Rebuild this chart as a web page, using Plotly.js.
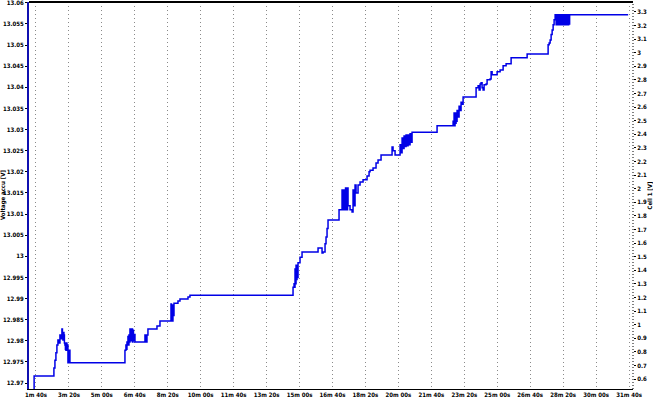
<!DOCTYPE html>
<html><head><meta charset="utf-8">
<script src="https://cdn.plot.ly/plotly-3.0.1.min.js"></script>
<style>html,body{margin:0;padding:0;background:#fff}#chart{width:653px;height:404px}</style>
</head><body><div id="chart"></div>
<script>
// time in seconds
const timeSec = [93.9,94.5,154.6,157.7,160.7,163.7,166.8,169.8,172.9,175.9,178.9,180.5,182.0,183.5,185.0,186.5,188.0,189.5,191.1,192.6,194.1,195.6,197.2,198.7,200.2,201.7,203.2,
370.2,373.2,374.7,376.3,379.3,380.8,382.3,383.8,385.4,386.9,388.4,389.9,391.5,393.0,394.5,396.0,397.5,400.6,403.6,
430.9,432.4,434.0,435.5,437.0,440.0,467.4,476.5,509.9,511.4,512.9,514.4,515.9,517.5,519.0,531.1,537.2,561.5,567.5,
880.3,883.3,884.8,886.3,887.8,889.4,890.9,892.4,893.9,895.4,901.5,907.6,956.2,968.3,971.3,977.4,980.4,983.5,986.5,
1019.9,1029.0,1030.5,1035.0,1036.6,1039.6,1041.2,1045.7,1047.2,1053.3,1059.4,1062.4,1065.4,1068.5,1071.5,1077.6,1083.7,1092.8,1104.9,1111.0,1114.0,1123.1,1132.2,1138.3,1147.4,
1180.8,1183.8,1189.9,1205.1,1208.1,1211.2,1214.2,1217.2,1220.3,1223.3,1226.3,1229.4,1232.4,1235.4,1238.5,1241.5,1317.4,
1366.0,1367.5,1369.0,1370.5,1372.0,1373.5,1375.1,1376.6,1378.1,1381.1,1384.2,1387.2,1390.2,1393.3,1396.4,1435.8,1441.9,1445.0,1448.0,1451.0,1454.0,1457.1,1460.1,1466.2,1469.2,1478.3,1481.4,1484.4,1499.6,1508.7,1517.8,1526.9,1542.1,1590.7,
1654.4,1657.5,1660.5,1663.5,1666.6,1669.6,1672.6,1675.7,1678.7,1680.2,1681.7,1683.3,1684.8,1686.3,1687.8,1689.4,1690.9,1692.4,1693.9,1695.5,1697.0,1698.5,1700.0,1701.5,1703.0,1704.5,1706.1,1707.6,1709.1,1710.6,1712.1,1713.6,1715.1,1716.7,1718.2,1719.7,1721.2,1897.3];
// Voltage accu [V]
const voltageAccu = [12.9680,12.9717,12.9736,12.9754,12.9772,12.9790,12.9802,12.9795,12.9814,12.9805,12.9828,12.9810,12.9802,12.9820,12.9814,12.9795,12.9790,12.9780,12.9778,12.9795,12.9778,12.9790,12.9748,12.9778,12.9748,12.9778,12.9748,
12.9778,12.9790,12.9780,12.9797,12.9810,12.9790,12.9814,12.9797,12.9828,12.9800,12.9828,12.9805,12.9828,12.9797,12.9825,12.9800,12.9815,12.9797,12.9797,
12.9814,12.9797,12.9814,12.9797,12.9814,12.9828,12.9835,12.9847,12.9887,12.9850,12.9880,12.9847,12.9885,12.9860,12.9889,12.9894,12.9899,12.9904,12.9908,
12.9927,12.9935,12.9927,12.9970,12.9935,12.9979,12.9945,12.9979,12.9950,12.9985,12.9998,13.0010,13.0020,13.0008,13.0010,13.0030,13.0046,13.0066,13.0086,
13.0110,13.0157,13.0110,13.0157,13.0110,13.0162,13.0110,13.0162,13.0120,13.0110,13.0105,13.0157,13.0120,13.0169,13.0150,13.0169,13.0176,13.0181,13.0190,13.0200,13.0204,13.0209,13.0221,13.0228,13.0240,
13.0259,13.0250,13.0240,13.0264,13.0245,13.0280,13.0255,13.0285,13.0260,13.0287,13.0262,13.0287,13.0264,13.0290,13.0270,13.0294,13.0309,
13.0320,13.0309,13.0339,13.0309,13.0339,13.0315,13.0335,13.0320,13.0345,13.0330,13.0355,13.0345,13.0365,13.0360,13.0377,13.0399,13.0404,13.0394,13.0408,13.0411,13.0399,13.0394,13.0406,13.0408,13.0418,13.0420,13.0437,13.0430,13.0437,13.0441,13.0451,13.0456,13.0470,13.0479,
13.0501,13.0505,13.0512,13.0525,13.0536,13.0548,13.0560,13.0572,13.0548,13.0572,13.0548,13.0572,13.0550,13.0572,13.0548,13.0572,13.0548,13.0572,13.0550,13.0572,13.0548,13.0572,13.0560,13.0572,13.0548,13.0572,13.0548,13.0572,13.0550,13.0572,13.0548,13.0572,13.0548,13.0572,13.0550,13.0572,13.0572,13.0572];

const xTickVals = [100,200,300,400,500,600,700,800,900,1000,1100,1200,1300,1400,1500,1600,1700,1800,1900];
const xTickText = ["1m 40s","3m 20s","5m 00s","6m 40s","8m 20s","10m 00s","11m 40s","13m 20s","15m 00s","16m 40s","18m 20s","20m 00s","21m 40s","23m 20s","25m 00s","26m 40s","28m 20s","30m 00s","31m 40s"];
const yLeftTickVals = [12.97,12.975,12.98,12.985,12.99,12.995,13,13.005,13.01,13.015,13.02,13.025,13.03,13.035,13.04,13.045,13.05,13.055,13.06];
const yLeftTickText = ["12.97","12.975","12.98","12.985","12.99","12.995","13","13.005","13.01","13.015","13.02","13.025","13.03","13.035","13.04","13.045","13.05","13.055","13.06"];
const yRightTickVals = [0.6,0.7,0.8,0.9,1,1.1,1.2,1.3,1.4,1.5,1.6,1.7,1.8,1.9,2,2.1,2.2,2.3,2.4,2.5,2.6,2.7,2.8,2.9,3,3.1,3.2,3.3];
const yRightTickText = ["0.6","0.7","0.8","0.9","1","1.1","1.2","1.3","1.4","1.5","1.6","1.7","1.8","1.9","2","2.1","2.2","2.3","2.4","2.5","2.6","2.7","2.8","2.9","3","3.1","3.2","3.3"];
const leftTitle = 'Voltage accu [V]';
const rightTitle = 'Cell 1 [V]';

const F = {family:'"Liberation Sans Narrow","DejaVu Sans Condensed",Arial,sans-serif', size:6, color:'#000', weight:'bold', stretch:'condensed'};
const FT = {family:'"Liberation Sans Narrow","DejaVu Sans Condensed",Arial,sans-serif', size:6, color:'#000', weight:'bold', stretch:'condensed'};

const data = [
 {x: timeSec, y: voltageAccu, type:'scatter', mode:'lines',
  line:{color:'#0000e6', width:1.5, shape:'hv'}, hoverinfo:'skip', showlegend:false},
 {x: [], y: [], yaxis:'y2', type:'scatter', mode:'lines', hoverinfo:'skip', showlegend:false}
];

const plotW = 653 - 29 - 20;
const layout = {
  width:653, height:404,
  margin:{l:29, r:20, t:2, b:15, pad:0},
  paper_bgcolor:'#fff', plot_bgcolor:'#fff',
  showlegend:false,
  xaxis:{range:[79,1912], tickvals:xTickVals, ticktext:xTickText, tickfont:F, tickangle:0,
    showgrid:true, gridcolor:'#8a8a8a', griddash:'1px,3px', gridwidth:1,
    showline:true, linecolor:'#000', linewidth:1, ticks:'', zeroline:false, automargin:false},
  yaxis:{range:[12.9686,13.0602], tickvals:yLeftTickVals, ticktext:yLeftTickText, tickfont:F, tickangle:0,
    showgrid:false, zeroline:false, showline:true, linecolor:'#1010b0', linewidth:2,
    ticks:'outside', ticklen:2, tickcolor:'#000', automargin:false},
  yaxis2:{range:[0.5265,3.3735], overlaying:'y', side:'right', tickvals:yRightTickVals, ticktext:yRightTickText, tickfont:F, tickangle:0,
    showgrid:false, zeroline:false, showline:false, ticks:'outside', ticklen:2, tickcolor:'#000', automargin:false},
  annotations:[
    {text:leftTitle, xref:'paper', yref:'paper', x:(2.5-29)/plotW, y:0.5, xanchor:'center', yanchor:'middle', textangle:-90, showarrow:false, font:FT},
    {text:rightTitle, xref:'paper', yref:'paper', x:(649-29)/plotW, y:0.5, xanchor:'center', yanchor:'middle', textangle:-90, showarrow:false, font:FT}
  ],
  shapes:[
    {type:'line', xref:'paper', yref:'paper', x0:0, x1:1, y0:1, y1:1, line:{color:'#000', width:2}},
    {type:'line', xref:'paper', yref:'paper', x0:1, x1:1, y0:0, y1:1, line:{color:'#000', width:1, dash:'1px,2px'}}
  ]
};
Plotly.newPlot('chart', data, layout, {staticPlot:true, displayModeBar:false});
</script></body></html>
